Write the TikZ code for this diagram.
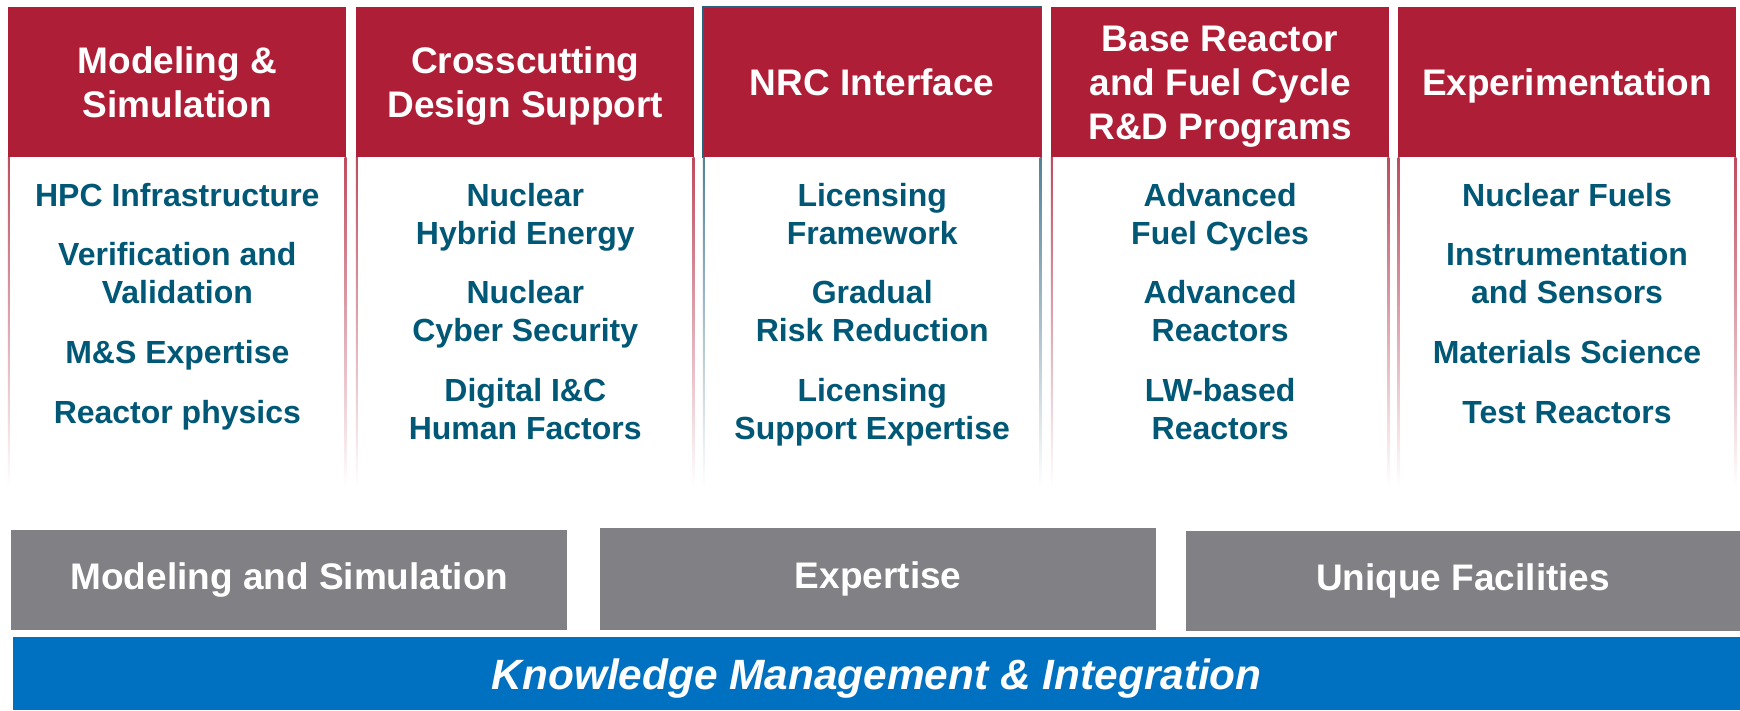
\documentclass[tikz,border=0pt]{standalone}
\usepackage{fontspec}
\setmainfont{Liberation Sans}
\usetikzlibrary{positioning}
\definecolor{inlred}{RGB}{174,31,55}
\definecolor{inlteal}{RGB}{0,88,118}
\definecolor{nrcedge}{RGB}{38,98,128}
\definecolor{pillargray}{RGB}{128,128,133}
\definecolor{kmblue}{RGB}{0,112,192}

\begin{document}
\begin{tikzpicture}[
			x=0.5pt, y=-0.5pt,
			header/.style={anchor=north west,fill=inlred,text=white,
			inner sep=0pt,minimum width=169pt,minimum height=75pt,align=center,
			text depth=0pt,font=\bfseries\fontsize{18.5}{22}\selectfont},
			topics/.style={anchor=north,text=inlteal,inner sep=0pt,align=center,
			font=\bfseries\fontsize{16}{19}\selectfont},
			pillar/.style={anchor=north west,fill=pillargray,text=white,
			inner sep=0pt,minimum height=50pt,
			font=\bfseries\fontsize{18.5}{22}\selectfont},
			base/.style={anchor=north west,fill=kmblue,text=white,
			inner sep=0pt,minimum width=863.5pt,minimum height=36.5pt,text depth=0pt,
			font=\bfseries\itshape\fontsize{21.2}{25}\selectfont}
			]
			\fill[white] (0,0) rectangle (1740,710);
			\coordinate (bot) at (0,487);
			% column headers
			\node[header] (h1) at (8,7) {Modeling \&\\Simulation};
			\node[header] (h2) at (356,7) {Crosscutting\\Design Support};
			\node[header] (h3) at (703,7) {NRC Interface};
			\node[header] (h4) at (1051,7) {Base Reactor\\and Fuel Cycle\\R\&D Programs};
			\node[header] (h5) at (1398,7) {Experimentation};
			\draw[nrcedge, line width=0.8pt] (h3.south west) -- (h3.north west)
				-- (h3.north east) -- (h3.south east);
			% fading column sides
			\foreach \n/\c in {h1/inlred, h2/inlred, h3/nrcedge, h4/inlred, h5/inlred} {
				\shade[top color=\c!80, bottom color=white]
					([xshift=1pt]\n.south west) rectangle (\n.south west |- bot);
				\shade[top color=\c!80, bottom color=white]
					([xshift=-1pt]\n.south east) rectangle (\n.south east |- bot);
			}
			% column topics
			\node[topics, below=12.5pt of h1] (b1) {HPC Infrastructure\\[10.8pt]
				Verification and\\Validation\\[10.8pt]M\&S Expertise\\[10.8pt]Reactor physics};
			\node[topics, below=12.5pt of h2] (b2) {Nuclear\\Hybrid Energy\\[10.8pt]
				Nuclear\\Cyber Security\\[10.8pt]Digital I\&C\\Human Factors};
			\node[topics, below=12.5pt of h3] (b3) {Licensing\\Framework\\[10.8pt]
				Gradual\\Risk Reduction\\[10.8pt]Licensing\\Support Expertise};
			\node[topics, below=12.5pt of h4] (b4) {Advanced\\Fuel Cycles\\[10.8pt]
				Advanced\\Reactors\\[10.8pt]LW-based\\Reactors};
			\node[topics, below=12.5pt of h5] (b5) {Nuclear Fuels\\[10.8pt]
				Instrumentation\\and Sensors\\[10.8pt]Materials Science\\[10.8pt]Test Reactors};
			% capabilities
			\node[pillar, minimum width=278pt] (ms) at (11,530) {Modeling and Simulation};
			\node[pillar, minimum width=278pt, minimum height=51pt] (ex) at (600,528) {Expertise};
			\node[pillar, minimum width=277pt] (uf) at (1186,531) {Unique Facilities};
			\node[base] (km) at (13,637) {Knowledge Management \& Integration};
		\end{tikzpicture}
\end{document}
